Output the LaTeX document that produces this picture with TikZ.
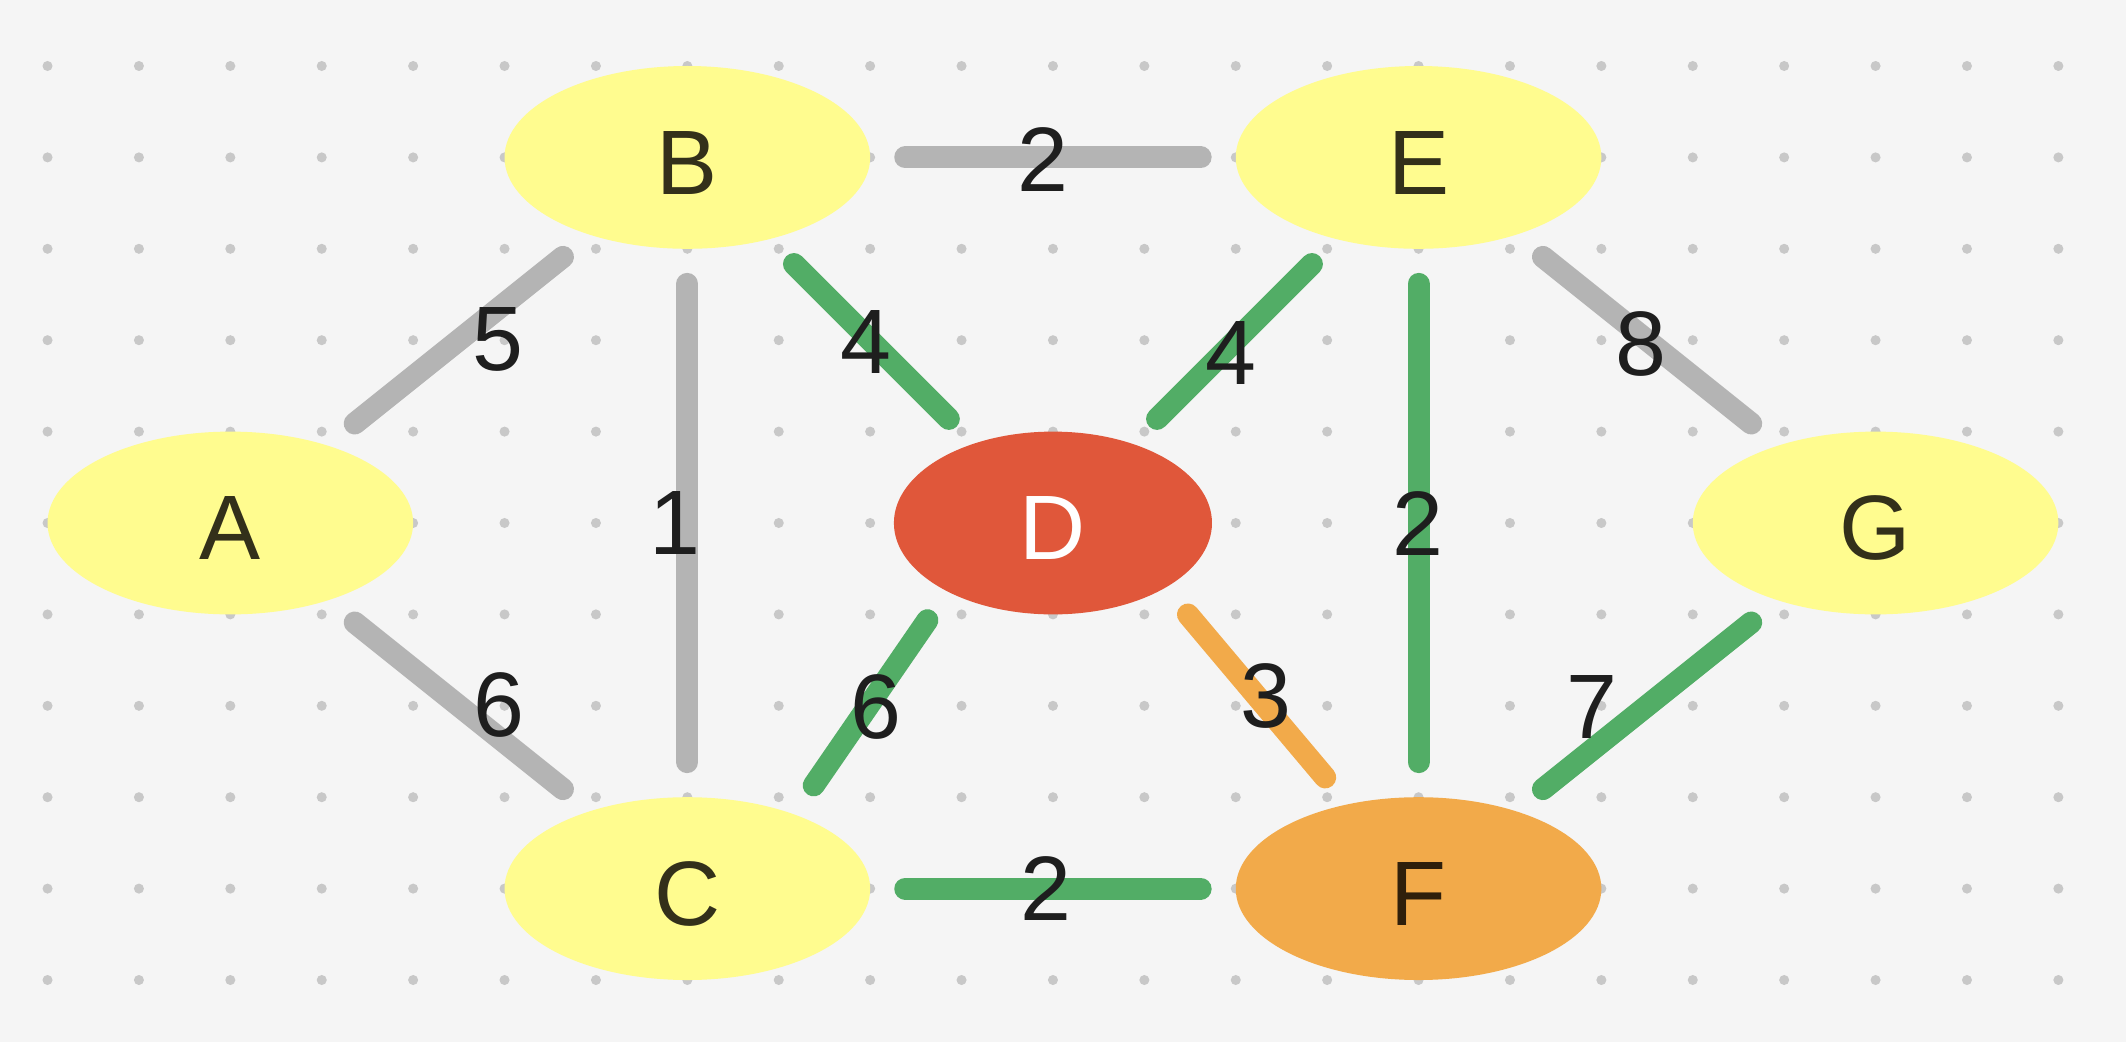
\documentclass[tikz,border=0pt]{standalone}
\usepackage{fontspec}
\setmainfont{Liberation Sans}
\usetikzlibrary{shapes.geometric}
\definecolor{bgc}{HTML}{F5F5F5}
\definecolor{dotc}{HTML}{C8C8C8}
\definecolor{yel}{HTML}{FFFC8F}
\definecolor{redc}{HTML}{E0573A}
\definecolor{orc}{HTML}{F2AA4A}
\definecolor{grc}{HTML}{52AD66}
\definecolor{gyc}{HTML}{B4B4B4}
\definecolor{ytxt}{HTML}{33301A}
\definecolor{ftxt}{HTML}{2F1F0B}
\definecolor{ltxt}{HTML}{1E1E1E}
\tikzset{
  vtx/.style={ellipse, fill=yel, text=ytxt, minimum width=4cm, minimum height=2cm, inner sep=0pt,
    text height=23pt, text depth=0pt, font=\fontsize{28.5}{30}\selectfont},
  vred/.style={vtx, fill=redc, text=white, minimum width=3.48cm},
  vor/.style={vtx, fill=orc, text=ftxt},
  edgebase/.style={line width=6.85pt, line cap=round, shorten >=0.377cm, shorten <=0.377cm},
  egray/.style={edgebase, draw=gyc},
  egreen/.style={edgebase, draw=grc},
  eorange/.style={edgebase, draw=orc},
  lbl/.style={text=ltxt, inner sep=0pt, font=\fontsize{28.5}{30}\selectfont}
}
\begin{document}
\begin{tikzpicture}[x=1cm,y=1cm]
\fill[bgc] (0,0) rectangle (23.26,-11.40);
\useasboundingbox (0,0) rectangle (23.26,-11.40);
\foreach \i in {0,...,22} {
  \foreach \j in {0,...,10} {
    \fill[dotc] (0.52+\i,-0.722-\j) circle (0.055);
  }
}
\node[vtx] (A) at (2.52,-5.722) {A};
\node[vtx] (B) at (7.52,-1.722) {B};
\node[vtx] (C) at (7.52,-9.722) {C};
\node[vred] (D) at (11.52,-5.722) {D};
\node[vtx] (E) at (15.52,-1.722) {E};
\node[vor] (F) at (15.52,-9.722) {F};
\node[vtx] (G) at (20.52,-5.722) {G};

\draw[egray] (A) -- (B);
\draw[egray] (A) -- (C);
\draw[egray] (B) -- (C);
\draw[egray] (B) -- (E);
\draw[egray] (E) -- (G);
\draw[egreen] (B) -- (D);
\draw[egreen] (D) -- (E);
\draw[egreen] (E) -- (F);
\draw[egreen] (C.35.6) -- (D.213.3);
\draw[egreen] (C) -- (F);
\draw[egreen] (F) -- (G);
\draw[eorange] (D.-30.1) -- (F.130.5);

\node[lbl] (l5) at (5.445,-3.709) {5};
\node[lbl] (l4a) at (9.473,-3.747) {4};
\node[lbl] (l4b) at (13.463,-3.862) {4};
\node[lbl] (l8) at (17.954,-3.761) {8};
\node[lbl] (l2a) at (11.407,-1.743) {2};
\node[lbl] (l1) at (7.38,-5.727) {1};
\node[lbl] (l2b) at (15.509,-5.727) {2};
\node[lbl] (l6a) at (5.46,-7.713) {6};
\node[lbl] (l6b) at (9.584,-7.735) {6};
\node[lbl] (l3) at (13.846,-7.611) {3};
\node[lbl] (l7) at (17.418,-7.735) {7};
\node[lbl] (l2c) at (11.444,-9.722) {2};
\end{tikzpicture}
\end{document}
